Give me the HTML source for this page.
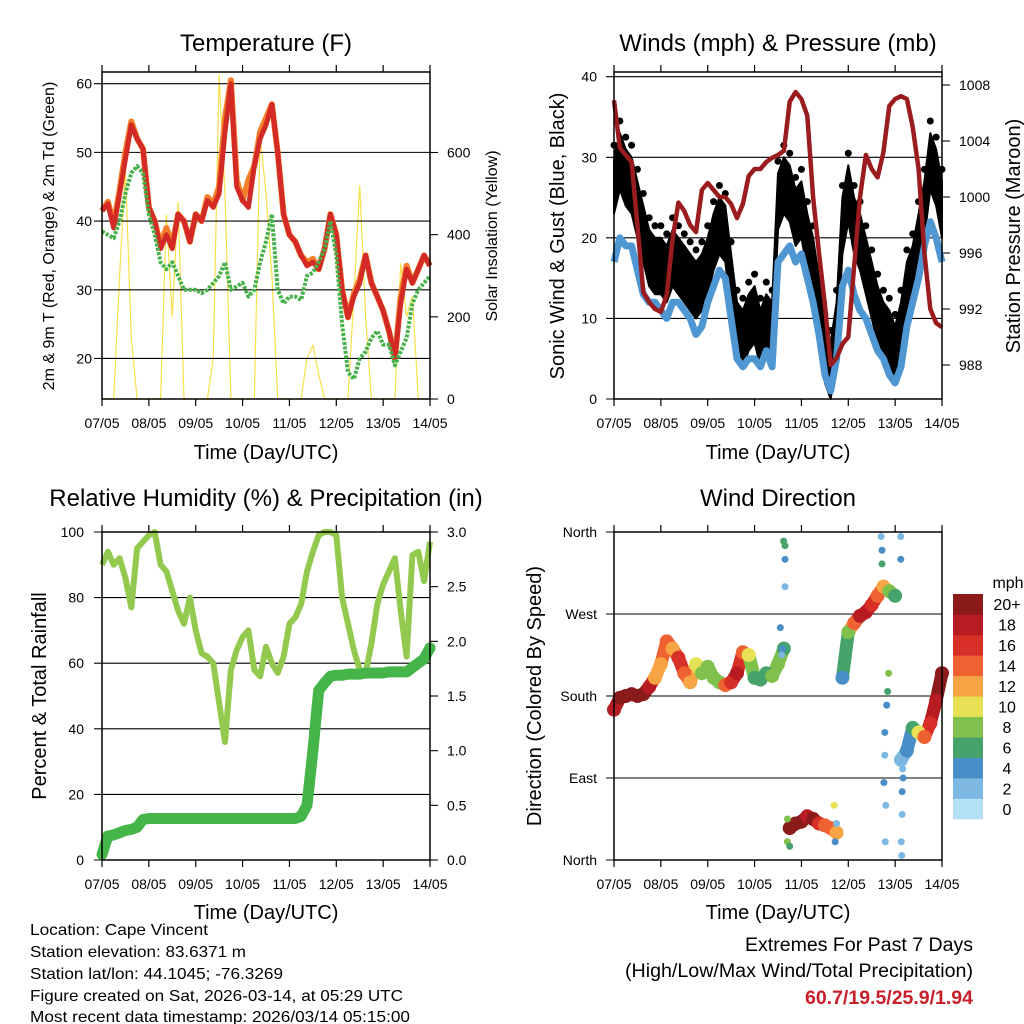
<!DOCTYPE html>
<html><head><meta charset="utf-8"><style>
html,body{margin:0;padding:0;background:#fff;}
svg{display:block;font-family:"Liberation Sans",sans-serif;}
</style></head><body>
<svg id="chart" width="1024" height="1024" viewBox="0 0 1024 1024" xmlns="http://www.w3.org/2000/svg">
<rect x="0" y="0" width="1024" height="1024" fill="#fff"/>
<g id="layer"></g>
<text x="266" y="51" font-size="24" text-anchor="middle">Temperature (F)</text>
<text x="778" y="51" font-size="24" text-anchor="middle">Winds (mph) &amp; Pressure (mb)</text>
<text x="266" y="506" font-size="24" text-anchor="middle">Relative Humidity (%) &amp; Precipitation (in)</text>
<text x="778" y="506" font-size="24" text-anchor="middle">Wind Direction</text>
<text x="266" y="459" font-size="20" text-anchor="middle">Time (Day/UTC)</text>
<text x="778" y="459" font-size="20" text-anchor="middle">Time (Day/UTC)</text>
<text x="266" y="919" font-size="20" text-anchor="middle">Time (Day/UTC)</text>
<text x="778" y="919" font-size="20" text-anchor="middle">Time (Day/UTC)</text>
<text transform="translate(54,236) rotate(-90)" font-size="16" text-anchor="middle">2m &amp; 9m T (Red, Orange) &amp; 2m Td (Green)</text>
<text transform="translate(497,236) rotate(-90)" font-size="16" text-anchor="middle">Solar Insolation (Yellow)</text>
<text transform="translate(564,236) rotate(-90)" font-size="20" text-anchor="middle">Sonic Wind &amp; Gust (Blue, Black)</text>
<text transform="translate(1020,236) rotate(-90)" font-size="20" text-anchor="middle">Station Pressure (Maroon)</text>
<text transform="translate(46,696) rotate(-90)" font-size="20" text-anchor="middle">Percent &amp; Total Rainfall</text>
<text transform="translate(541,696) rotate(-90)" font-size="20" text-anchor="middle">Direction (Colored By Speed)</text>
<text x="1008" y="588" font-size="16" text-anchor="middle">mph</text>
<g font-size="16">
<text x="30" y="935" textLength="178" lengthAdjust="spacingAndGlyphs">Location: Cape Vincent</text>
<text x="30" y="957" textLength="216" lengthAdjust="spacingAndGlyphs">Station elevation: 83.6371 m</text>
<text x="30" y="979" textLength="253" lengthAdjust="spacingAndGlyphs">Station lat/lon: 44.1045; -76.3269</text>
<text x="30" y="1001" textLength="373" lengthAdjust="spacingAndGlyphs">Figure created on Sat, 2026-03-14, at 05:29 UTC</text>
<text x="30" y="1022" textLength="380" lengthAdjust="spacingAndGlyphs">Most recent data timestamp: 2026/03/14 05:15:00</text>
</g>
<text x="973" y="951" font-size="19" text-anchor="end" textLength="228" lengthAdjust="spacingAndGlyphs">Extremes For Past 7 Days</text>
<text x="973" y="977" font-size="19" text-anchor="end" textLength="348" lengthAdjust="spacingAndGlyphs">(High/Low/Max Wind/Total Precipitation)</text>
<text x="973" y="1004" font-size="19" font-weight="bold" fill="#c8202a" text-anchor="end" textLength="168" lengthAdjust="spacingAndGlyphs">60.7/19.5/25.9/1.94</text>
</svg>
<script>
// ---- data (3-hourly samples, index i => day i/8) ----
const dayLabels = ["07/05","08/05","09/05","10/05","11/05","12/05","13/05","14/05"];
const temp2m = [41.5,42.5,39,44,49,54,52,50.5, 42,40,36,38,36,41,40,37, 41,40,43,42,44,53,60,45, 43,42,48,52,54,57,50,41, 38,37,35,33.5,34,33,36,41, 38,30,26,29,31,35,31,29, 27,24,20,28,33,31,33,35,33.5];
const temp9m = [41.5,42.8,39.5,44.5,50,54.5,52,50.5, 42,40,36.5,39,36.5,41,40,37, 41,40,43.5,42.5,45,55,60.5,46, 43,46,48,53,55,57,50,41, 38,37,35,34,34.5,33,36,41, 38,30,26,29.5,31.5,35,31,29, 27,24,20,29,33.5,31,33,35,33.5];
const dewPoint = [38.5,38,37.5,40,44,47,48,47, 41,38,34,33,34,32,30,30, 30,29.5,30,31,32,34,30,30.5, 31,29,30,34,37,41,30,28, 29,29,28.5,32,32.5,34,36,40, 35,25,18,17,20,21,23,24, 22,22,19,21,23,28,30,31,32];
const solar = [0,0,0,300,560,150,0,0, 0,0,0,450,200,480,0,0, 0,0,0,100,790,500,0,0, 0,0,0,640,500,300,0,0, 0,0,0,100,130,60,0,0, 0,0,0,250,520,200,0,0, 0,0,0,330,200,250,0,0,0];
const windSpeed = [17,20,19,19,16,13,12,12, 11,10,12,12,11,10,8,9, 12,14,16,15,10,5,4,5, 5,4,6,4,17,18,19,17, 18,15,12,8,3,1,5,14, 16,13,11,10,8,6,5,3, 2,4,9,12,15,19,22,20,17];
const windGust = [27,30,28,27,24,21,18,17, 17,16,18,17,16,15,14,15, 17,20,22,21,15,9,8,10, 11,8,10,9,25,27,26,23, 24,20,17,12,6,4,9,22, 26,22,20,17,14,11,9,8, 6,9,14,16,20,24,30,28,24];
const pressure = [1006.9,1003.5,1003,1002.5,998,993.2,992.5,992, 991.8,993,997,999.6,999,998,997.5,1000.5, 1001,1000.5,1000,1000,999.5,998.5,999.5,1001.5, 1002,1002,1002.5,1002.8,1003,1003.3,1006.8,1007.5, 1007,1005.8,1000,996,992.3,988,988.5,989.5, 990,995,1000,1003,1002,1001.4,1003.2,1006.5, 1007,1007.2,1007,1005,1002,996,992,991,990.7];
const humidity = [90,94,90,92,86,77,95,97, 99,100,90,88,82,76,72,80, 70,63,62,60,48,36,58,64, 68,70,58,56,65,60,57,62, 72,74,78,88,94,99,100,100, 99,80,72,64,58,57,66,78, 84,88,92,76,62,93,94,85,97];
const precip = [0.05,0.22,0.23,0.25,0.27,0.28,0.3,0.37, 0.38,0.38,0.38,0.38,0.38,0.38,0.38,0.38, 0.38,0.38,0.38,0.38,0.38,0.38,0.38,0.38, 0.38,0.38,0.38,0.38,0.38,0.38,0.38,0.38, 0.38,0.38,0.4,0.5,1.0,1.55,1.62,1.68, 1.69,1.69,1.7,1.7,1.7,1.71,1.71,1.71, 1.71,1.72,1.72,1.72,1.72,1.76,1.8,1.84,1.94];
const windDir = [165,178,180,182,180,182,190,200, 215,240,232,222,205,195,215,205, 212,200,195,192,195,205,228,225, 200,198,205,202,215,232,35,40, 42,48,45,40,38,35,30,200, 250,260,268,272,280,290,300,295, 290,110,120,145,140,135,150,175,205];
const dirSpeed = [17,20,20,20,20,20,18,12, 12,14,12,16,14,12,10,8, 7,8,8,14,16,18,14,10, 6,6,5,8,8,6,20,20, 20,18,20,16,14,14,12,4, 8,14,18,18,16,14,12,8, 6,2,3,6,10,14,16,18,20];
const extraDay = [3.6,3.65,3.65,3.65,3.62,3.55,3.58,5.7,5.72,5.72,5.78,5.78,5.76,5.79,5.8,6.12,6.12,6.13,6.15,6.15,6.17,6.16,6.14,3.7,3.7,3.75,4.7,4.72,4.75,5.82,5.84,5.86];
const extraDeg = [232,345,330,300,350,255,225,355,340,325,140,115,85,20,60,355,330,20,50,75,90,100,5,20,45,15,60,20,40,170,185,205];
const extraSpd = [4,6,4,2,6,4,2,2,4,6,4,2,4,2,2,2,4,2,2,4,4,2,2,8,8,6,10,4,2,4,6,8];
const speedBins = ["0","2","4","6","8","10","12","14","16","18","20+"];
const binColors = ["#b4e1f6","#7db8e2","#4a8ec8","#45a36b","#7fc14c","#e6e155","#f7a444","#ee6130","#d73027","#b71c22","#8b1a1a"];
const tempTicks = [20,30,40,50,60];
const solarTicks = [0,200,400,600];
const windTicks = [0,10,20,30,40];
const pressTicks = [988,992,996,1000,1004,1008];
const rhTicks = [0,20,40,60,80,100];
const rainTicks = ["0.0","0.5","1.0","1.5","2.0","2.5","3.0"];
const dirTicks = ["North","East","South","West","North"];

const NS = "http://www.w3.org/2000/svg";
const layer = document.getElementById("layer");
function mk(tag, attrs, parent){ const e=document.createElementNS(NS,tag); for(const k in attrs) e.setAttribute(k,attrs[k]); (parent||layer).appendChild(e); return e; }
function lin(d0,d1,r0,r1){ return v => r0 + (v-d0)*(r1-r0)/(d1-d0); }

const P = [
 {x0:102,x1:430,y0:72,y1:399},
 {x0:614,x1:942,y0:72,y1:399},
 {x0:102,x1:430,y0:532,y1:860},
 {x0:614,x1:942,y0:532,y1:860}
];
function xs(p){ return lin(0,7,p.x0,p.x1); }
function tIdx(i){ return i/8; }

function frame(p, name){
  const g = mk("g",{});
  
  
  const X = xs(p);
  for(let d=0; d<=7; d++){
    const x = X(d);
    const t1 = mk("line",{x1:x,x2:x,y1:p.y0-7,y2:p.y0,stroke:"#000","stroke-width":1.2},g);
    
    
    const t2 = mk("line",{x1:x,x2:x,y1:p.y1,y2:p.y1+7,stroke:"#000","stroke-width":1.2},g);
    
    
    const lb = mk("text",{x:x,y:p.y1+29,"font-size":14,"text-anchor":"middle"},g);
    lb.textContent = dayLabels[d];
    
    
  }
  const r = mk("rect",{x:p.x0,y:p.y0,width:p.x1-p.x0,height:p.y1-p.y0,fill:"none",stroke:"#000","stroke-width":1.5},g);
  
  
  return g;
}
function hgrid(p, y, name){
  const l = mk("line",{x1:p.x0-8,x2:p.x1,y1:y,y2:y,stroke:"#000","stroke-width":1.1});
  
  
}
function leftLabel(x,y,txt,name){
  const t = mk("text",{x:x,y:y+5,"font-size":14,"text-anchor":"end"});
  t.textContent = txt;
  
  
}
function rightTick(p,y,txt,name){
  const l = mk("line",{x1:p.x1,x2:p.x1+8,y1:y,y2:y,stroke:"#000","stroke-width":1.1});
  
  
  const t = mk("text",{x:p.x1+17,y:y+5,"font-size":14});
  t.textContent = txt;
  
  
}
function path(pts){ return pts.map((q,i)=>(i?"L":"M")+q[0].toFixed(1)+","+q[1].toFixed(1)).join(""); }

// ===== Panel 1: Temperature =====
(function(){
  const p=P[0], X=xs(p), Y=lin(14.1,61.7,p.y1,p.y0), S=lin(0,796,p.y1,p.y0);
  const sp = mk("path",{d:path(solar.map((v,i)=>[X(tIdx(i)),S(v)])),fill:"none",stroke:"#f7e04a","stroke-width":1.2});
  
  
  tempTicks.forEach(v=>{ hgrid(p,Y(v),'temp-gridline'); leftLabel(92,Y(v),String(v),'temp-y-tick-label'); });
  solarTicks.forEach(v=>rightTick(p,S(v),String(v),'solar-y'));
  const o = mk("path",{d:path(temp9m.map((v,i)=>[X(tIdx(i)),Y(v)])),fill:"none",stroke:"#f47f2a","stroke-width":6,"stroke-linejoin":"round"});
  
  
  const r = mk("path",{d:path(temp2m.map((v,i)=>[X(tIdx(i)),Y(v)])),fill:"none",stroke:"#d42a25","stroke-width":5,"stroke-linejoin":"round"});
  
  
  const g = mk("path",{d:path(dewPoint.map((v,i)=>[X(tIdx(i)),Y(v)])),fill:"none",stroke:"#46b04a","stroke-width":4,"stroke-dasharray":"3 1.5","stroke-linejoin":"round"});
  
  
  frame(p,'temperature');
})();

// ===== Panel 2: Winds & Pressure =====
(function(){
  const p=P[1], X=xs(p), Y=lin(0,40,399,76.7), Pr=lin(988,1008,365,85);
  windTicks.forEach(v=>{ hgrid(p,Y(v),'wind-gridline'); leftLabel(597,Y(v),String(v),'wind-y-tick-label'); });
  pressTicks.forEach(v=>rightTick(p,Pr(v),String(v),'pressure-y'));
  const up = windGust.map((v,i)=>[X(tIdx(i)),Y(v+3)]);
  const lo = windGust.map((v,i)=>[X(tIdx(i)),Y(Math.max(v-4,0))]).reverse();
  const band = mk("path",{d:path(up.concat(lo))+"Z",fill:"#000",stroke:"#000","stroke-width":2,"stroke-linejoin":"round"});
  
  
  windGust.forEach((v,i)=>{
    const c = mk("circle",{cx:X(tIdx(i)),cy:Y(v+4.5),r:3.5,fill:"#000"});
    
    
  });
  const b = mk("path",{d:path(windSpeed.map((v,i)=>[X(tIdx(i)),Y(v)])),fill:"none",stroke:"#4f97d3","stroke-width":7,"stroke-linejoin":"round"});
  
  
  const m = mk("path",{d:path(pressure.map((v,i)=>[X(tIdx(i)),Pr(v)])),fill:"none",stroke:"#9b1c1f","stroke-width":4.5,"stroke-linejoin":"round"});
  
  
  frame(p,'winds');
})();

// ===== Panel 3: Humidity & Precip =====
(function(){
  const p=P[2], X=xs(p), Y=lin(0,100,p.y1,p.y0), R=lin(0,3,p.y1,p.y0);
  rhTicks.forEach(v=>{ hgrid(p,Y(v),'humidity-gridline'); leftLabel(84,Y(v),String(v),'humidity-y-tick-label'); });
  rainTicks.forEach(v=>rightTick(p,R(parseFloat(v)),v,'rain-y'));
  const h = mk("path",{d:path(humidity.map((v,i)=>[X(tIdx(i)),Y(v)])),fill:"none",stroke:"#94c94f","stroke-width":6,"stroke-linejoin":"round"});
  
  
  const r = mk("path",{d:path(precip.map((v,i)=>[X(tIdx(i)),R(v)])),fill:"none",stroke:"#45b549","stroke-width":11,"stroke-linejoin":"round","stroke-linecap":"round"});
  
  
  frame(p,'humidity');
})();

// ===== Panel 4: Wind direction =====
(function(){
  const p=P[3], X=xs(p), Y=lin(0,360,p.y1,p.y0);
  dirTicks.forEach((t,k)=>{ hgrid(p,Y(k*90),'direction-gridline'); leftLabel(597,Y(k*90),t,'direction-y-tick-label'); });
  function col(s){ let b=Math.round(s/2); if(b>10)b=10; if(b<0)b=0; return binColors[b]; }
  for(let i=1;i<windDir.length;i++){
    if(Math.abs(windDir[i]-windDir[i-1])>60) continue;
    const s = mk("line",{x1:X(tIdx(i-1)),y1:Y(windDir[i-1]),x2:X(tIdx(i)),y2:Y(windDir[i]),stroke:col((dirSpeed[i]+dirSpeed[i-1])/2),"stroke-width":13,"stroke-linecap":"round"});
    
    
  }
  windDir.forEach((v,i)=>{
    const c = mk("circle",{cx:X(tIdx(i)),cy:Y(v),r:7,fill:col(dirSpeed[i])});
    
    
  });
  extraDay.forEach((d,i)=>{
    const c = mk("circle",{cx:X(d),cy:Y(extraDeg[i]),r:3.5,fill:col(extraSpd[i])});
    
    
  });
  frame(p,'direction');
  const bh = 225/speedBins.length;
  speedBins.forEach((lab,k)=>{
    const y = 594 + (speedBins.length-1-k)*bh;
    const r = mk("rect",{x:953,y:y,width:30,height:bh+0.3,fill:binColors[k]});
    
    
    const t = mk("text",{x:1007,y:y+bh/2+6,"font-size":16,"text-anchor":"middle"});
    t.textContent = lab;
    
    
  });
})();
</script>
</body></html>
